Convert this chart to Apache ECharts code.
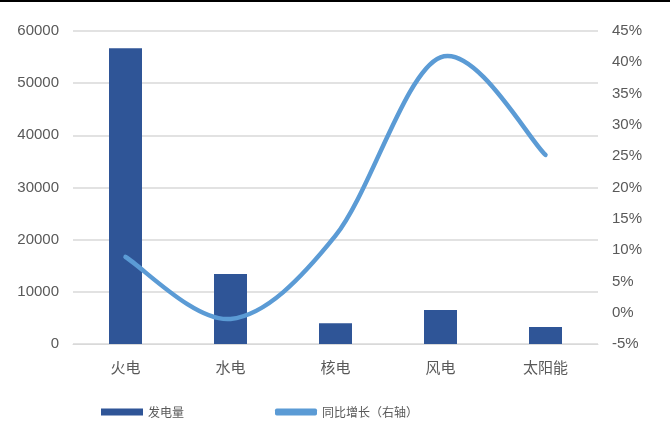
<!DOCTYPE html>
<html><head><meta charset="utf-8">
<script src="https://cdn.jsdelivr.net/npm/echarts@6/dist/echarts.min.js"></script>
<style>html,body{margin:0;padding:0;background:#fff}#c{width:670px;height:441px}</style>
</head><body><div id="c"></div>
<script>
const categories = ['火电','水电','核电','风电','太阳能'];
const generation = [56700, 13400, 4000, 6500, 3250];
const growth = [8.9, -1.0, 12.3, 40.8, 25.2];
const leftTicks = [0, 60000, 10000];
const rightTicks = [-5, 45, 5];

function renderCurve(params, api) {
  if (params.dataIndex !== 0) return null;
  const pts = growth.map((v, i) => api.coord([i, v]));
  let d = 'M' + pts[0][0] + ' ' + pts[0][1];
  for (let i = 0; i < pts.length - 1; i++) {
    const p0 = pts[Math.max(0, i - 1)], p1 = pts[i], p2 = pts[i + 1], p3 = pts[Math.min(pts.length - 1, i + 2)];
    const c1 = [p1[0] + (p2[0] - p0[0]) / 6, p1[1] + (p2[1] - p0[1]) / 6];
    const c2 = [p2[0] - (p3[0] - p1[0]) / 6, p2[1] - (p3[1] - p1[1]) / 6];
    d += ' C' + c1[0] + ' ' + c1[1] + ' ' + c2[0] + ' ' + c2[1] + ' ' + p2[0] + ' ' + p2[1];
  }
  return {type:'path', shape:{pathData:d}, style:{fill:null, stroke:'#5B9BD5', lineWidth:4.5, lineCap:'round', lineJoin:'round'}};
}

const chart = echarts.init(document.getElementById('c'), null, {renderer:'canvas'});
chart.setOption({
  animation:false,
  graphic:[{type:'rect', shape:{x:0,y:0,width:670,height:2}, style:{fill:'#000'}}],
  grid:{left:73, top:31, width:525, height:313},
  legend:{
    top:401, left:96, itemGap:91, itemWidth:42, itemHeight:7,
    textStyle:{color:'#595959', fontSize:12, fontFamily:'Noto Sans CJK SC'},
    data:[{name:'发电量', icon:'rect'},{name:'同比增长（右轴）', icon:'roundRect', itemStyle:{color:'#5B9BD5'}}]
  },
  xAxis:{type:'category', data:categories,
    axisLine:{lineStyle:{color:'#d9d9d9', width:1}}, axisTick:{show:false},
    axisLabel:{color:'#595959', fontSize:15, margin:16, fontFamily:'Noto Sans CJK SC'}},
  yAxis:[
    {type:'value', min:leftTicks[0], max:leftTicks[1], interval:leftTicks[2],
     axisLine:{show:false}, axisTick:{show:false},
     splitLine:{lineStyle:{color:'#d9d9d9', width:1.5}},
     axisLabel:{color:'#595959', fontSize:15, margin:14, fontFamily:'Liberation Sans', formatter:v => String(v)}},
    {type:'value', min:rightTicks[0], max:rightTicks[1], interval:rightTicks[2],
     axisLine:{show:false}, axisTick:{show:false}, splitLine:{show:false},
     axisLabel:{color:'#595959', fontSize:15, margin:14, fontFamily:'Liberation Sans', formatter:'{value}%'}}
  ],
  series:[
    {name:'发电量', type:'bar', data:generation, barWidth:33, itemStyle:{color:'#2F5597'}, z:2},
    {name:'同比增长（右轴）', type:'custom', yAxisIndex:1, data:growth.map((v,i)=>[i,v]), z:5,
     encode:{x:0, y:1}, renderItem:renderCurve, itemStyle:{color:'#5B9BD5'}}
  ]
});
</script></body></html>
